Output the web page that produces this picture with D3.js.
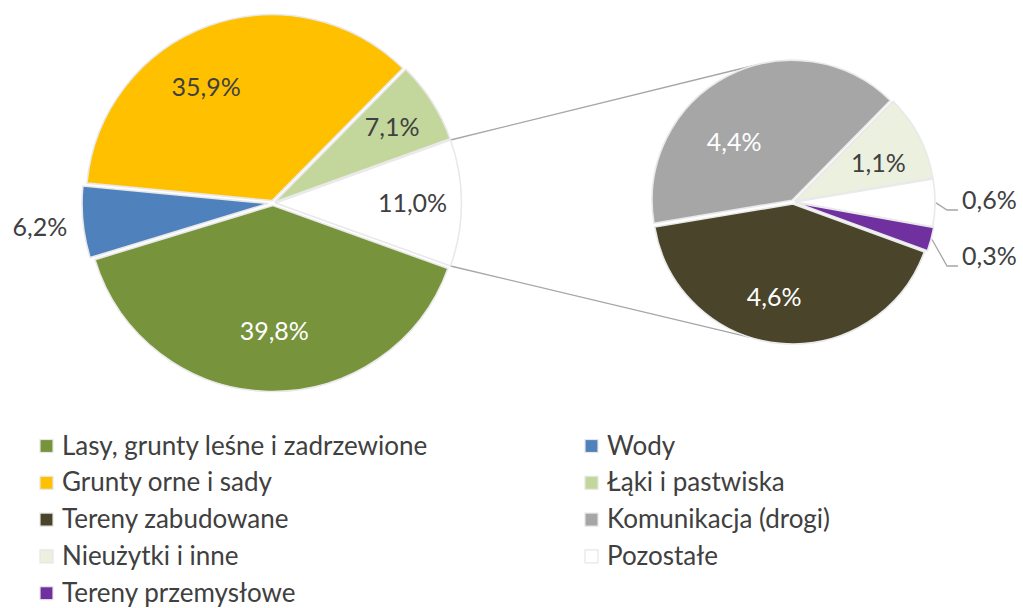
<!DOCTYPE html>
<html>
<head>
<meta charset="utf-8">
<script src="https://cdn.jsdelivr.net/npm/d3@7"></script>
<style>
  html, body { margin: 0; padding: 0; background: #ffffff; }
  svg { display: block; font-family: Lato, "Open Sans", sans-serif; }
</style>
</head>
<body>
<svg id="chart" width="1023" height="608"></svg>
<script>
// ---------- DATA ----------
const mainCategories = ["Lasy, grunty leśne i zadrzewione", "Wody", "Grunty orne i sady", "Łąki i pastwiska", "Pozostałe (razem)"];
const mainValues = [39.8, 6.2, 35.9, 7.1, 11.0];

const subCategories = ["Tereny zabudowane", "Komunikacja (drogi)", "Nieużytki i inne", "Pozostałe", "Tereny przemysłowe"];
const subValues = [4.6, 4.4, 1.1, 0.6, 0.3];

const legendLabels = ["Lasy, grunty leśne i zadrzewione", "Wody", "Grunty orne i sady", "Łąki i pastwiska",
  "Tereny zabudowane", "Komunikacja (drogi)", "Nieużytki i inne", "Pozostałe", "Tereny przemysłowe"];

const colorMap = {
  "Lasy, grunty leśne i zadrzewione": "#77933C",
  "Wody": "#4F81BD",
  "Grunty orne i sady": "#FFC000",
  "Łąki i pastwiska": "#C3D69B",
  "Pozostałe (razem)": "#FFFFFF",
  "Tereny zabudowane": "#4A452A",
  "Komunikacja (drogi)": "#A6A6A6",
  "Nieużytki i inne": "#EBF1DE",
  "Pozostałe": "#FFFFFF",
  "Tereny przemysłowe": "#7030A0"
};
const whiteLabel = new Set(["Lasy, grunty leśne i zadrzewione", "Tereny zabudowane", "Komunikacja (drogi)"]);

// ---------- LAYOUT ----------
const deg = Math.PI / 180;
const fmt = v => d3.format(".1f")(v).replace(".", ",") + "%";
const svg = d3.select("#chart");
const textColor = "#404040";

const main = { cx: 273, cy: 203, r: 186, start: 109.8 * deg };
const sub = { cx: 793, cy: 202, r: 140, start: 110 * deg };

// explode distances and label placement (angle tweak in deg, radius fraction, outside flag)
const mainExplode = [2.5, 5, 2.5, 2.5, 2.5];
const mainLabelPos = [
  { da: -2, rf: 0.69 }, { da: 0, rf: 1.26, outside: true }, { da: -10, rf: 0.72 },
  { da: 0, rf: 0.76 }, { da: 0, rf: 0.75 }
];
const subExplode = [2, 2, 2, 2, 3];
const subLabelPos = [
  { da: 6, rf: 0.69 }, { da: -17, rf: 0.6 }, { da: 3, rf: 0.67 },
  { leader: true, dy: 8 }, { leader: true, dy: 64 }
];

const pieMain = d3.pie().sort(null).value(d => d).startAngle(main.start).endAngle(main.start + 2 * Math.PI);
const pieSub = d3.pie().sort(null).value(d => d).startAngle(sub.start).endAngle(sub.start + 2 * Math.PI);

function polar(cx, cy, r, a) { return [cx + r * Math.sin(a), cy - r * Math.cos(a)]; }

function drawPie(cfg, arcsData, cats, explode, labelPos, labelSize) {
  const arc = d3.arc().innerRadius(0).outerRadius(cfg.r);
  const g = svg.append("g").attr("transform", `translate(${cfg.cx},${cfg.cy})`);
  arcsData.forEach((d, i) => {
    const mid = (d.startAngle + d.endAngle) / 2;
    const off = explode[i];
    g.append("path")
      .attr("d", arc(d))
      .attr("transform", `translate(${off * Math.sin(mid)},${-off * Math.cos(mid)})`)
      .attr("fill", colorMap[cats[i]])
      .attr("stroke", "#E9E9E9")
      .attr("stroke-width", 1.6)
      .attr("stroke-linejoin", "round");
  });
  arcsData.forEach((d, i) => {
    const lp = labelPos[i];
    const mid = (d.startAngle + d.endAngle) / 2;
    if (lp.leader) {
      const p0 = polar(0, 0, cfg.r + explode[i] + 1, mid);
      const ex = cfg.r + 14, ey = lp.dy;
      const endX = cfg.r + 25;
      g.append("path")
        .attr("d", d3.line()([p0, [ex, ey], [endX, ey]]))
        .attr("fill", "none").attr("stroke", "#A6A6A6").attr("stroke-width", 1.3);
      g.append("text")
        .attr("x", endX + 4).attr("y", ey - 1)
        .attr("fill", textColor).attr("font-size", labelSize)
        .text(fmt(subValues[i]));
      return;
    }
    const a = mid + lp.da * deg;
    const p = polar(0, 0, cfg.r * lp.rf, a);
    g.append("text")
      .attr("x", p[0]).attr("y", p[1])
      .attr("text-anchor", "middle").attr("dy", "0.36em")
      .attr("fill", lp.outside ? textColor : (whiteLabel.has(cats[i]) ? "#FFFFFF" : textColor))
      .attr("font-size", labelSize)
      .text(fmt(d.data));
  });
}

const mainArcs = pieMain(mainValues);
const subArcs = pieSub(subValues);

// connector lines (drawn first so they sit beneath pies)
const other = mainArcs[mainArcs.length - 1];
const otherOff = mainExplode[mainExplode.length - 1];
const otherMid = (other.startAngle + other.endAngle) / 2;
const shift = [otherOff * Math.sin(otherMid), -otherOff * Math.cos(otherMid)];
const mTop = polar(main.cx + shift[0], main.cy + shift[1], main.r, other.startAngle);
const mBot = polar(main.cx + shift[0], main.cy + shift[1], main.r, other.endAngle);
const sTop = polar(sub.cx, sub.cy, sub.r + 2, -16 * deg);
const sBot = polar(sub.cx, sub.cy, sub.r + 2, 198 * deg);
const conn = svg.append("g").attr("fill", "none").attr("stroke", "#A6A6A6").attr("stroke-width", 1.3);
conn.append("line").attr("x1", mTop[0]).attr("y1", mTop[1]).attr("x2", sTop[0]).attr("y2", sTop[1]);
conn.append("line").attr("x1", mBot[0]).attr("y1", mBot[1]).attr("x2", sBot[0]).attr("y2", sBot[1]);

drawPie(main, mainArcs, mainCategories, mainExplode, mainLabelPos, 25);
drawPie(sub, subArcs, subCategories, subExplode, subLabelPos, 25);

// ---------- LEGEND ----------
const legend = svg.append("g");
const colX = [40, 585];
const baseY0 = 454.5, rowStep = 36.8;
legendLabels.forEach((lab, i) => {
  const col = i % 2, row = Math.floor(i / 2);
  const x = colX[col], base = baseY0 + row * rowStep;
  legend.append("rect")
    .attr("x", x).attr("y", base - 15).attr("width", 13).attr("height", 13)
    .attr("fill", colorMap[lab]).attr("stroke", "#E6E6E6").attr("stroke-width", 1.2);
  legend.append("text")
    .attr("x", x + 22).attr("y", base)
    .attr("fill", textColor).attr("font-size", 26)
    .text(lab);
});
</script>
</body>
</html>
